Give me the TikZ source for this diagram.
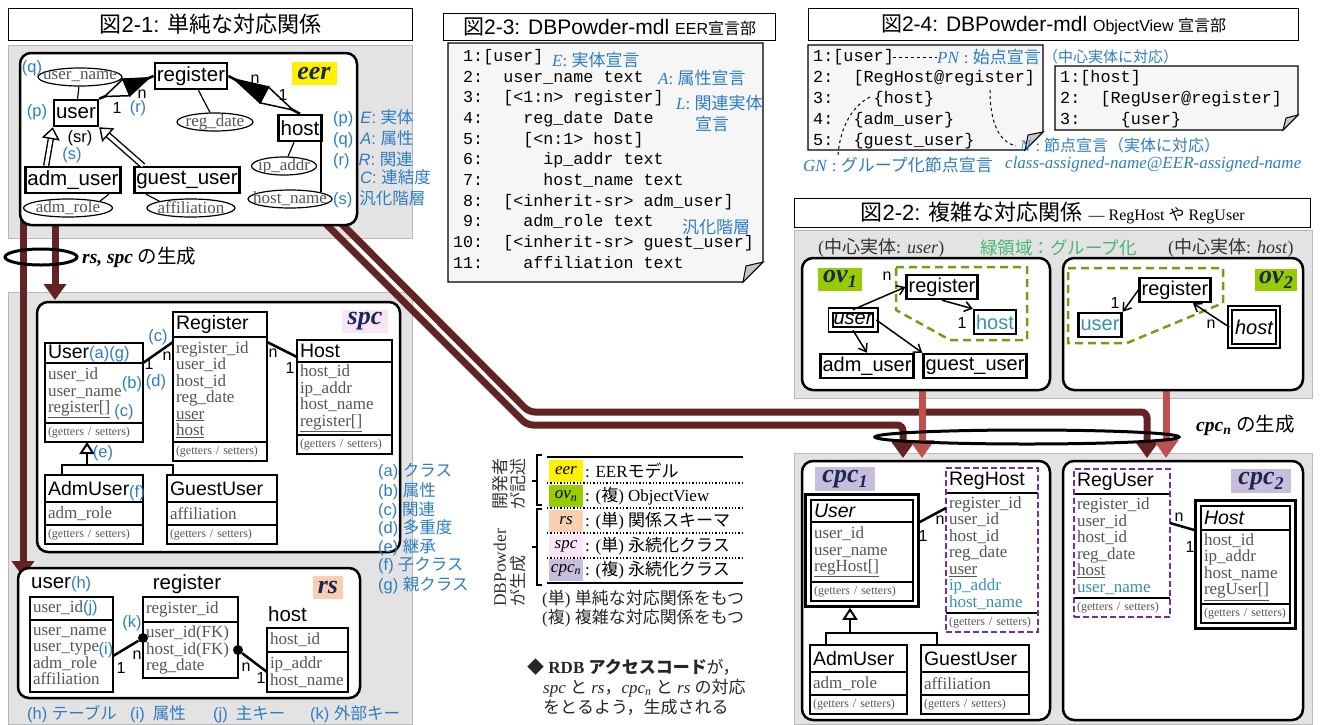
\documentclass[tikz,border=0pt]{standalone}
\usepackage{fontspec}
\setmainfont{Liberation Serif}
\setsansfont{Liberation Sans}
\setmonofont{Liberation Mono}
\newfontfamily\jp{Noto Sans CJK JP}
\usetikzlibrary{arrows.meta,shapes.geometric,fit,calc}
\definecolor{dblue}{RGB}{45,125,195}
\definecolor{teal2}{RGB}{55,145,170}
\definecolor{pipe}{RGB}{99,35,35}
\definecolor{salm}{RGB}{192,80,77}
\definecolor{navy}{RGB}{25,40,85}
\definecolor{ygreen}{RGB}{153,204,0}
\definecolor{ogreen}{RGB}{110,160,20}
\definecolor{lgreen}{RGB}{70,185,110}
\definecolor{purp}{RGB}{112,48,160}
\definecolor{peach}{RGB}{248,208,176}
\definecolor{pinkbg}{RGB}{252,228,248}
\definecolor{lav}{RGB}{200,190,220}
\definecolor{attrgray}{RGB}{85,85,85}
\newcommand{\J}[1]{{\jp #1}}
\newcommand{\fs}[1]{\fontsize{#1}{#1}\selectfont}
\newcommand{\cls}[8][]{%
  \node[clst,#1,text width=#4-6,minimum height=#6,anchor=north west] (#2) at (#3) {#5};
  \node[clsa,#1,text width=#4-6,minimum height=#8,anchor=north west] (#2-a) at (#2.south west) {#7};
  \node[clsm,#1,text width=#4-6,anchor=north west] (#2-m) at (#2-a.south west) {(getters / setters)}; }
\newcommand{\tbl}[7]{%
  \node[clsa,text width=#3-6,minimum height=#5,anchor=north west] (#1) at (#2) {#4};
  \node[clsa,text width=#3-6,minimum height=#7,anchor=north west] (#1-r) at (#1.south west) {#6}; }
\newcommand{\attr}[4]{\node[att,minimum width=#3] (#1) at (#2) {}; \node[attt] at (#1) {#4};}
\newcommand{\rdia}[2]{%
  \path (#1) -- (#2) coordinate[pos=0.1] (d0) coordinate[pos=0.5] (dm) coordinate[pos=0.92] (d1);
  \filldraw[fill=white,line width=1.5pt] (d0) -- ($(dm)!9pt!90:(d1)$) -- ($(dm)!9pt!-90:(d1)$) -- cycle;
  \filldraw[line width=1.5pt] (d1) -- ($(dm)!9pt!90:(d1)$) -- ($(dm)!9pt!-90:(d1)$) -- cycle; }

\begin{document}
\begin{tikzpicture}[x=1pt,y=-1pt,
  hdr/.style={draw,line width=1.2pt,fill=white,inner sep=0pt,anchor=north west,font=\sffamily\fs{22}},
  pnl/.style={draw=gray!55,fill=gray!22,line width=0.8pt},
  rbox/.style={draw,line width=2.5pt,fill=white,rounded corners=11pt},
  note/.style={draw,line width=1.2pt,fill=gray!7},
  fold/.style={draw,line width=1pt,fill=gray!45},
  ent/.style={draw,line width=2.5pt,fill=white,inner sep=2pt,minimum height=26pt,font=\sffamily\fs{20.5}},
  ovn/.style={draw,line width=2.5pt,fill=white,inner sep=2pt,minimum height=24pt,font=\sffamily\fs{20}},
  cen/.style={draw,double,double distance=2.5pt,line width=1.8pt,fill=white,inner sep=3pt,font=\sffamily\itshape\fs{20}},
  att/.style={draw,ellipse,line width=1.2pt,fill=white,inner sep=0pt,minimum height=18pt},
  attt/.style={inner sep=0pt,text=attrgray,font=\fs{17}},
  lbl/.style={text=dblue,inner sep=0pt,anchor=west,font=\sffamily\fs{16.5}},
  blu/.style={text=dblue,inner sep=0pt,font=\sffamily\fs{16.5}},
  lbs/.style={text=dblue,inner sep=0pt,anchor=west,font=\fs{17}},
  crd/.style={inner sep=0pt,font=\sffamily\fs{16}},
  tag/.style={inner sep=1pt,text=navy,font=\bfseries\itshape\fs{26}},
  cd/.style={anchor=north west,inner sep=0pt,align=left,font=\ttfamily\fontsize{16.7}{20.7}\selectfont},
  clst/.style={draw,line width=2.5pt,fill=white,outer sep=0pt,align=left,inner xsep=3pt,inner ysep=0pt,font=\sffamily\fontsize{19.5}{20}\selectfont},
  clsa/.style={draw,line width=2.5pt,fill=white,outer sep=0pt,align=left,inner xsep=3pt,inner ysep=0pt,text=attrgray,font=\fontsize{17}{16.5}\selectfont},
  clsm/.style={draw,line width=2.5pt,fill=white,outer sep=0pt,align=left,inner xsep=3pt,inner ysep=0pt,minimum height=19pt,text=attrgray,font=\fs{12}},
  dot/.style={circle,fill,inner sep=0pt,minimum size=10pt},
  rel/.style={line width=2.5pt},
  isa/.style={double,line width=1.4pt,double distance=3.5pt,-{Triangle[open,length=12pt,width=18pt]}},
  inh/.style={line width=2pt,-{Triangle[open,length=12pt,width=15pt]}},
  ova/.style={line width=1.5pt,-{Straight Barb[length=7pt,width=10pt]}},
  grp/.style={draw=ogreen,line width=2.5pt,dash pattern=on 8pt off 5pt},
  pp/.style={draw=pipe,line width=7pt,rounded corners=6pt,-{Triangle[width=22pt,length=16pt]}},
  sp/.style={draw=salm,line width=7pt,-{Triangle[width=24pt,length=18pt]}},
  gen/.style={draw,line width=3pt},
  key/.style={minimum width=34pt,minimum height=22pt,inner sep=0pt,font=\itshape\fs{17}},
  kd/.style={anchor=west,inner sep=0pt,font=\fs{17}},
  txt/.style={anchor=west,inner sep=0pt,font=\fs{17},text=black!85}]
\useasboundingbox (0,0) rectangle (1320,724);

% panels
\draw[pnl] (8,45) rectangle (412,238);
\draw[pnl] (8,292) rectangle (412,724);
\draw[pnl] (794,230) rectangle (1312,398);
\draw[pnl] (794,453) rectangle (1312,724);
\node[hdr,minimum width=404,minimum height=32] (h1) at (8,8) {\J{図}2-1: \J{単純な対応関係}};
\node[hdr,minimum width=332,minimum height=27,font=\sffamily\fs{21}] (h3) at (443,13) {\J{図}2-3: DBPowder-mdl {\fs{16}EER\J{宣言部}}};
\node[hdr,minimum width=490,minimum height=32,font=\sffamily\fs{21}] (h4) at (808,8) {\J{図}2-4: DBPowder-mdl {\fs{16}ObjectView \J{宣言部}}};
\node[hdr,minimum width=516,minimum height=29] (h2) at (794,198) {\J{図}2-2: \J{複雑な対応関係} {\rmfamily\fs{16}--- RegHost \J{や} RegUser}};

% pipes
\coordinate (p1a) at (333,215); \coordinate (p1b) at (1147,458);
\coordinate (p2a) at (317,215); \coordinate (p2b) at (903,458);
\coordinate (p3a) at (23,215); \coordinate (p3b) at (23,577);
\coordinate (p4a) at (55,215); \coordinate (p4b) at (55,300);
\draw[pp] (p1a) -- (529,412) -- (1147,412) -- (p1b);
\draw[pp] (p2a) -- (527,425) -- (903,425) -- (p2b);
\draw[pp] (p3a) -- (p3b);
\draw[pp] (p4a) -- (p4b);
\coordinate (s1a) at (922,390); \coordinate (s1b) at (922,458);
\coordinate (s2a) at (1166,390); \coordinate (s2b) at (1166,458);
\draw[sp] (s1a) -- (s1b);
\draw[sp] (s2a) -- (s2b);

% eer
\draw[rbox] (20,53) rectangle (357,225);
\node[tag,fill=yellow,minimum width=45,minimum height=23] (teer) at (314,73) {eer};
\attr{uname}{80,77}{84}{user\_name}
\attr{rdate}{215,122}{76}{reg\_date}
\attr{ip}{284,166}{65}{ip\_addr}
\attr{hname}{290,199}{84}{host\_name}
\attr{arole}{68,208}{89}{adm\_role}
\attr{affil}{191,208}{88}{affiliation}
\node[ent] (register) at (191,76) {register};
\node[ent] (user) at (76,113) {user};
\node[ent] (host) at (300,128) {host};
\node[ent] (adm) at (73,180) {adm\_user};
\node[ent] (guest) at (187,180) {guest\_user};
\draw[line width=1.2pt] (uname) -- (user);
\draw[line width=1.2pt] (rdate) -- (register);
\draw[line width=1.2pt] (ip) -- (host);
\draw[line width=1.2pt] (hname.12) -- (hname.12 |- host.south);
\draw[line width=1.2pt] (arole.north east) -- ($(adm.south east)+(-13,0)$);
\draw[line width=1.2pt] (affil.north west) -- ($(guest.south west)+(13,0)$);
\draw[rel] (user.north east) -- (register.west);
\rdia{user.north east}{register.west}
\draw[rel] (register.east) -- (host.north);
\rdia{host.north}{register.east}
\draw[isa] ($(adm.north west)+(22,0)$) -- (user.south west);
\draw[isa] ($(guest.north west)+(10,0)$) -- (user.south east);
\node[crd] (n1) at (142,94) {n};
\node[crd] (o1) at (117,108) {1};
\node[crd] (n2) at (255,79) {n};
\node[crd] (o2) at (283,95) {1};
\node[blu] (bq) at (32,68) {(q)};
\node[blu] (bp) at (37,112) {(p)};
\node[blu] (br) at (138,108) {(r)};
\node[crd,font=\sffamily\fs{16.5}] (bsr) at (80,138) {(sr)};
\node[blu] (bs) at (72,155) {(s)};
\node[lbl] (le1) at (333,118) {(p)\hspace{7pt}\textit{E}: \J{実体}};
\node[lbl] (le2) at (333,139) {(q)\hspace{7pt}\textit{A}: \J{属性}};
\node[lbl] (le3) at (333,160) {(r)\hspace{9pt}\textit{R}: \J{関連}};
\node[lbl] (le4) at (360,177) {\textit{C}: \J{連結度}};
\node[lbl] (le5) at (333,199) {(s)\hspace{7pt}\J{汎化階層}};
\draw[gen] (41,257) ellipse [x radius=36,y radius=8];
\node[anchor=west,inner sep=0pt,font=\fs{19.5}] (genl) at (82,257) {\textbf{\textit{rs, spc}} \J{の生成}};

% spc
\draw[rbox] (37,302) rectangle (400,552);
\node[tag,fill=pinkbg,minimum width=46,minimum height=23] (tspc) at (365,321) {spc};
\cls{sU}{45,343}{98}{User{\color{dblue}\fs{16.5}(a)(g)}}{20}{user\_id\\user\_name\\\underline{register[]}}{60}
\cls{sR}{173,312}{94}{Register}{25}{register\_id\\user\_id\\host\_id\\reg\_date\\\underline{user}\\\underline{host}}{105}
\cls{sH}{297,340}{95}{Host}{22}{host\_id\\ip\_addr\\host\_name\\\underline{register[]}}{73}
\cls{sA}{45,475}{98}{AdmUser}{27}{adm\_role}{23}
\cls{sG}{167,475}{110}{GuestUser}{27}{affiliation}{23}
\draw[rel] (sU-a.north east) -- ($(sR-a.north west)+(0,5)$);
\draw[rel] ($(sR-a.north east)+(0,5)$) -- ($(sH-a.north west)+(0,-5)$);
\coordinate (ih) at (87,465);
\draw[line width=2pt] ($(sA.north west)+(17,0)$) |- (ih) -| ($(sG.north west)+(6,0)$);
\draw[inh] (ih) -- (ih |- sU-m.south);
\node[crd] (n3) at (149,364) {1};
\node[crd] (n4) at (167,356) {n};
\node[crd] (n5) at (273,353) {n};
\node[crd] (n6) at (290,368) {1};
\node[blu] (bc1) at (158,337) {(c)};
\node[blu] (bd) at (156,382) {(d)};
\node[blu] (bb) at (132,384) {(b)};
\node[blu] (bc2) at (124,412) {(c)};
\node[blu] (be) at (103,453) {(e)};
\node[blu] (bf) at (137,493) {(f)};
\node[lbl] (la) at (378,472) {(a) \J{クラス}};
\node[lbl] (lb) at (378,491) {(b) \J{属性}};
\node[lbl] (lc) at (378,510) {(c) \J{関連}};
\node[lbl] (ld) at (378,528) {(d) \J{多重度}};
\node[lbl] (lee) at (378,547) {(e) \J{継承}};
\node[lbl] (lf) at (378,566) {(f)\hspace{4pt}\J{子クラス}};
\node[lbl] (lg) at (378,585) {(g) \J{親クラス}};

% rs
\draw[rbox] (18,568) rectangle (360,698);
\node[tag,fill=peach,minimum width=30,minimum height=23] (trs) at (328,587) {rs};
\node[anchor=west,inner sep=0pt,font=\sffamily\fs{20.5}] (tut) at (31,584) {user{\color{dblue}\fs{16.5}(h)}};
\node[inner sep=0pt,font=\sffamily\fs{20.5}] (trt) at (187,584) {register};
\node[anchor=west,inner sep=0pt,font=\sffamily\fs{20.5}] (tht) at (268,614) {host};
\tbl{tu}{30,597}{83}{user\_id{\color{dblue}\sffamily\fs{16.5}(j)}}{23}{user\_name\\user\_type\\adm\_role\\affiliation}{72}
\tbl{tr}{143,597}{95}{register\_id}{25}{user\_id(FK)\\host\_id(FK)\\reg\_date}{56}
\tbl{th}{267,628}{81}{host\_id}{24}{ip\_addr\\host\_name}{40}
\node[dot] (dt1) at (143,638) {};
\node[dot] (dt2) at (238,650) {};
\draw[rel] (tu-r.east) -- (dt1);
\draw[rel] (dt2) -- (th-r.west);
\node[blu] (bk) at (132,623) {(k)};
\node[blu] (bi) at (106,650) {(i)};
\node[crd] (n7) at (121,668) {1};
\node[crd] (n8) at (137,655) {n};
\node[crd] (n9) at (246,667) {n};
\node[crd] (n10) at (261,678) {1};
\node[lbl] (lh) at (27,714) {(h) \J{テーブル}};
\node[lbl] (li) at (130,714) {(i)\hspace{8pt}\J{属性}};
\node[lbl] (lj) at (213,714) {(j)\hspace{8pt}\J{主キー}};
\node[lbl] (lk) at (310,714) {(k) \J{外部キー}};

% 2-3 code
\draw[note] (448,43) -- (763,43) -- (763,262) -- (743,282) -- (448,282) -- cycle;
\draw[fold] (763,262) -- (743,282) -- (746,266) -- cycle;
\node[cd] (c23) at (453,49) {~1:[user]\\
~2:~~user\_name text\\
~3:~~[<1:n> register]\\
~4:~~~~reg\_date Date\\
~5:~~~~[<n:1> host]\\
~6:~~~~~~ip\_addr text\\
~7:~~~~~~host\_name text\\
~8:~~[<inherit-sr> adm\_user]\\
~9:~~~~adm\_role text\\
10:~~[<inherit-sr> guest\_user]\\
11:~~~~affiliation text};
\node[lbs] (ae) at (552,60) {\textit{E}: \J{実体宣言}};
\node[lbs] (aa) at (658,78) {\textit{A}: \J{属性宣言}};
\node[lbs] (al) at (676,103) {\textit{L}: \J{関連実体}};
\node[lbs] (al2) at (695,124) {\J{宣言}};
\node[lbs] (ag) at (682,227) {\J{汎化階層}};

% 2-4 code
\draw[note] (808,45) -- (1043,45) -- (1043,132) -- (1025,150) -- (808,150) -- cycle;
\draw[fold] (1043,132) -- (1025,150) -- (1028,135) -- cycle;
\draw[note] (1055,66) -- (1298,66) -- (1298,115) -- (1283,130) -- (1055,130) -- cycle;
\draw[fold] (1298,115) -- (1283,130) -- (1286,118) -- cycle;
\node[cd,font=\ttfamily\fontsize{16.8}{21}\selectfont] (c24a) at (813,49) {1:[user]\\
2:~~[RegHost@register]\\
3:~~~~\{host\}\\
4:~~\{adm\_user\}\\
5:~~\{guest\_user\}};
\node[cd,font=\ttfamily\fontsize{16.8}{21}\selectfont] (c24b) at (1060,70) {1:[host]\\
2:~~[RegUser@register]\\
3:~~~~\{user\}};
\node[lbs] (pn) at (937,57) {\textit{PN} : \J{始点宣言}};
\coordinate (pn0) at (893,57);
\draw[dashed,line width=1pt] (pn0) -- (pn.west);
\node[lbs,font=\fs{15}] (ctr) at (1043,57) {\J{（中心実体に対応）}};
\node[lbs] (gn) at (803,165) {\textit{GN} : \J{グループ化節点宣言}};
\coordinate (gn0) at (870,97); \coordinate (gn1) at (838,155);
\draw[dashed,line width=1pt] (gn0) .. controls (852,106) and (840,128) .. (gn1);
\node[lbs,font=\fs{16}] (nn) at (1020,145) {\textit{N} : \J{節点宣言（実体に対応）}};
\coordinate (nn0) at (990,90); \coordinate (nn1) at (1016,146);
\draw[dashed,line width=1pt] (nn0) .. controls (990,125) and (1000,142) .. (nn1);
\node[lbs] (can) at (1005,164) {\textit{class-assigned-name@EER-assigned-name}};

% 2-2 ov
\node[txt,font=\fs{18},text=black!80] (cu) at (818,248) {(\J{中心実体}: \textit{user})};
\node[txt,font=\fs{17.5},text=lgreen] (gr) at (980,248) {\J{緑領域：グループ化}};
\node[txt,font=\fs{18},text=black!80] (ch) at (1168,248) {(\J{中心実体}: \textit{host})};
\draw[rbox] (802,258) rectangle (1050,390);
\draw[rbox] (1063,258) rectangle (1303,390);
\node[tag,fill=ygreen,minimum width=44,minimum height=23] (tov1) at (840,279) {ov\raisebox{-5pt}{\fs{18}1}};
\node[tag,fill=ygreen,minimum width=42,minimum height=22] (tov2) at (1276,280) {ov\raisebox{-5pt}{\fs{18}2}};
\draw[grp] (896,267) -- (1027,267) -- (1027,340) -- (950,340) -- (896,310) -- cycle;
\draw[grp] (1068,268) -- (1223,268) -- (1223,303) -- (1127,343) -- (1068,343) -- cycle;
\node[ovn] (oreg1) at (942,287) {register};
\node[ovn,text=teal2] (ohost1) at (995,322) {host};
\node[cen] (ouser1) at (853,320) {\underline{user}};
\node[ovn] (oadm1) at (867,366) {adm\_user};
\node[ovn] (oguest1) at (975,366) {guest\_user};
\draw[ova] (ouser1.north) -- (oreg1.west);
\draw[ova] (oreg1.south) -- (ohost1.north west);
\draw[ova] (ouser1.south) -- (oadm1.north);
\draw[ova] (ouser1.east) -- (oguest1.north west);
\node[crd] (n11) at (887,276) {n};
\node[crd] (n12) at (962,323) {1};
\node[ovn] (oreg2) at (1175,290) {register};
\node[ovn,text=teal2] (ouser2) at (1100,325) {user};
\node[cen,minimum height=38pt,inner xsep=5pt] (ohost2) at (1254,327) {host};
\draw[ova] (oreg2.west) -- (ouser2.north east);
\draw[ova] (ohost2.west) -- ($(oreg2.south)+(18,0)$);
\node[crd] (n13) at (1115,303) {1};
\node[crd] (n14) at (1211,324) {n};
\draw[gen] (1027,437) ellipse [x radius=152,y radius=7];
\node[anchor=west,inner sep=0pt,font=\fs{19.5}] (genr) at (1196,425) {\textbf{\textit{cpc\textsubscript{n}}} \J{の生成}};

% cpc
\draw[rbox] (802,461) rectangle (1050,720);
\draw[rbox] (1063,461) rectangle (1303,720);
\node[tag,fill=lav,minimum width=60,minimum height=24] (tc1) at (845,479) {cpc\raisebox{-5pt}{\fs{18}1}};
\node[tag,fill=lav,minimum width=60,minimum height=24] (tc2) at (1261,481) {cpc\raisebox{-5pt}{\fs{18}2}};
\cls{cU}{811,500}{102}{\textit{User}}{22}{user\_id\\user\_name\\\underline{regHost[]}}{60}
\node[fit=(cU)(cU-m),draw,line width=2.5pt,inner sep=5.5pt] (cUo) {};
\cls[draw=none]{rh}{946,468}{92}{RegHost}{25}{register\_id\\user\_id\\host\_id\\reg\_date\\\underline{user}\\{\color{teal2}ip\_addr}\\{\color{teal2}host\_name}}{120}
\draw[rel] (rh.south west) -- (rh.south east);
\draw[rel] (rh-a.south west) -- (rh-a.south east);
\node[fit=(rh)(rh-m),draw=purp,line width=2.5pt,dash pattern=on 6pt off 3pt,inner sep=0pt] (rho) {};
\cls{cA}{810,645}{97}{AdmUser}{27}{adm\_role}{23}
\cls{cG}{921,645}{108}{GuestUser}{27}{affiliation}{23}
\coordinate (ih2) at (850,633);
\draw[line width=2pt] ($(cA.north west)+(16,0)$) |- (ih2) -| ($(cG.north west)+(16,0)$);
\draw[inh] (ih2) -- (ih2 |- cUo.south);
\draw[rel] (cU-a.north east -| cUo.east) -- ($(rh-a.north west)+(0,15)$);
\node[crd] (n15) at (923,536) {1};
\node[crd] (n16) at (940,520) {n};
\cls[draw=none]{ru}{1074,469}{96}{RegUser}{25}{register\_id\\user\_id\\host\_id\\reg\_date\\\underline{host}\\{\color{teal2}user\_name}}{104}
\draw[rel] (ru.south west) -- (ru.south east);
\draw[rel] (ru-a.south west) -- (ru-a.south east);
\node[fit=(ru)(ru-m),draw=purp,line width=2.5pt,dash pattern=on 6pt off 3pt,inner sep=0pt] (ruo) {};
\cls{cH}{1201,506}{89}{\textit{Host}}{24}{host\_id\\ip\_addr\\host\_name\\\underline{regUser[]}}{74}
\node[fit=(cH)(cH-m),draw,line width=2.5pt,inner sep=5.5pt] (cHo) {};
\draw[rel] ($(ru-a.north east)+(0,29)$) -- (cH-a.north west -| cHo.west);
\node[crd] (n17) at (1179,517) {n};
\node[crd] (n18) at (1190,547) {1};

% legend
\draw[line width=2.5pt] (547,457) -- (743,457);
\draw[line width=2.5pt] (547,583) -- (743,583);
\draw[dotted,line width=1.3pt] (547,483) -- (743,483);
\draw[dotted,line width=1.3pt] (547,508) -- (743,508);
\draw[dotted,line width=1.3pt] (547,533) -- (743,533);
\draw[dotted,line width=1.3pt] (547,558) -- (743,558);
\node[key,fill=yellow] (keer) at (566,471) {eer};
\node[key,fill=ygreen] (kov) at (566,496) {ov\textsubscript{n}};
\node[key,fill=peach] (krs) at (566,521) {rs};
\node[key,fill=pinkbg] (kspc) at (566,546) {spc};
\node[key,fill=lav] (kcpc) at (566,570) {cpc\textsubscript{n}};
\node[kd] (deer) at (585,471) {: EER\J{モデル}};
\node[kd] (dov) at (585,496) {: (\J{複}) ObjectView};
\node[kd] (drs) at (585,521) {: (\J{単}) \J{関係スキーマ}};
\node[kd] (dspc) at (585,546) {: (\J{単}) \J{永続化クラス}};
\node[kd] (dcpc) at (585,570) {: (\J{複}) \J{永続化クラス}};
\draw[line width=2pt] (542,455) -- (537,455) -- (537,505) -- (542,505);
\draw[line width=2pt] (537,481) -- (532,481);
\draw[line width=2pt] (542,509) -- (537,509) -- (537,585) -- (542,585);
\draw[line width=2pt] (537,547) -- (532,547);
\node[rotate=90,inner sep=0pt,font=\jp\fs{17},text=black!80] (vt1) at (500,484) {開発者};
\node[rotate=90,inner sep=0pt,font=\jp\fs{17},text=black!80] (vt2) at (518,484) {が記述};
\node[rotate=90,anchor=west,inner sep=0pt,font=\fs{17.5},text=black!80] (vt3) at (500,607) {DBPowder};
\node[rotate=90,anchor=west,inner sep=0pt,font=\jp\fs{17},text=black!80] (vt4) at (518,607) {が生成};
\node[txt] (ms) at (542,599) {(\J{単}) \J{単純な対応関係をもつ}};
\node[txt] (mc) at (542,618) {(\J{複}) \J{複雑な対応関係をもつ}};
\node[txt] (rdb1) at (527,667) {\J{◆} \textbf{RDB {\jp\bfseries アクセスコード}}\J{が，}};
\node[txt] (rdb2) at (543,688) {\textit{spc} \J{と} \textit{rs}\J{，}\textit{cpc\textsubscript{n}} \J{と} \textit{rs} \J{の対応}};
\node[txt] (rdb3) at (543,707) {\J{をとるよう，生成される}};
\end{tikzpicture}
\end{document}
